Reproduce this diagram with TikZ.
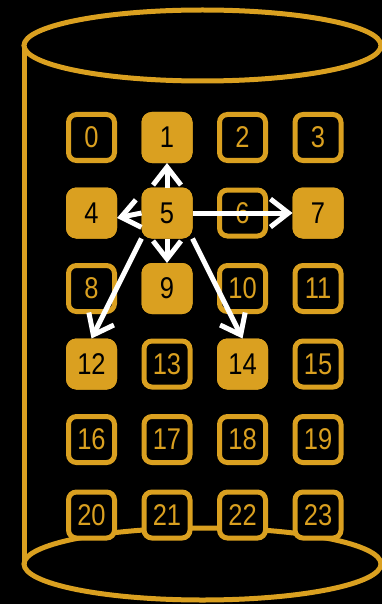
\documentclass[tikz,border=0pt]{standalone}
\usepackage{fontspec}
\newfontfamily\digitfont[FakeStretch=0.85]{Liberation Sans}
\usetikzlibrary{arrows.meta}
\definecolor{gold}{RGB}{218,160,32}
\begin{document}
\begin{tikzpicture}[x=1pt,y=-1pt,
  cell/.style={draw=gold, line width=5pt, rounded corners=8pt, minimum size=46pt, inner sep=0pt,
    fill=black, text=gold, font=\digitfont\fontsize{30}{30}\selectfont},
  hot/.style={fill=gold, text=black},
  link/.style={draw=white, line width=5pt, -{Straight Barb[length=18pt,width=28pt]}},
  rim/.style={draw=gold, line width=5pt}]
\fill[black] (0,0) rectangle (382,604);
\useasboundingbox (0,0) rectangle (382,604);
% cylinder
\draw[rim] (202.5,45.5) ellipse [x radius=178.5pt, y radius=35.5pt];
\draw[rim] (24,46) -- (24,564);
\draw[rim] (202.5,564) ellipse [x radius=178.5pt, y radius=36pt];
% cells
\foreach \r in {0,...,5}{
  \foreach \c in {0,...,3}{
    \pgfmathtruncatemacro{\k}{4*\r+\c}
    \node[cell] (n\k) at ({91.5+75.5*\c},{137.5+75.5*\r}) {\k};
  }
}
\foreach \k in {1,4,5,7,9,12,14}{
  \node[cell,hot] at (n\k) {\k};
}
% arrows
\draw[link] (n5.north) -- (n1.south);
\draw[link] (n5.west) -- ([yshift=-5pt]n4.east);
\draw[link] (n5.east) -- (n7.west);
\draw[link] (n5.south) -- (n9.north);
\draw[link] (n5.south west) -- (n12.north);
\draw[link] (n5.south east) -- (n14.north);
\end{tikzpicture}
\end{document}
